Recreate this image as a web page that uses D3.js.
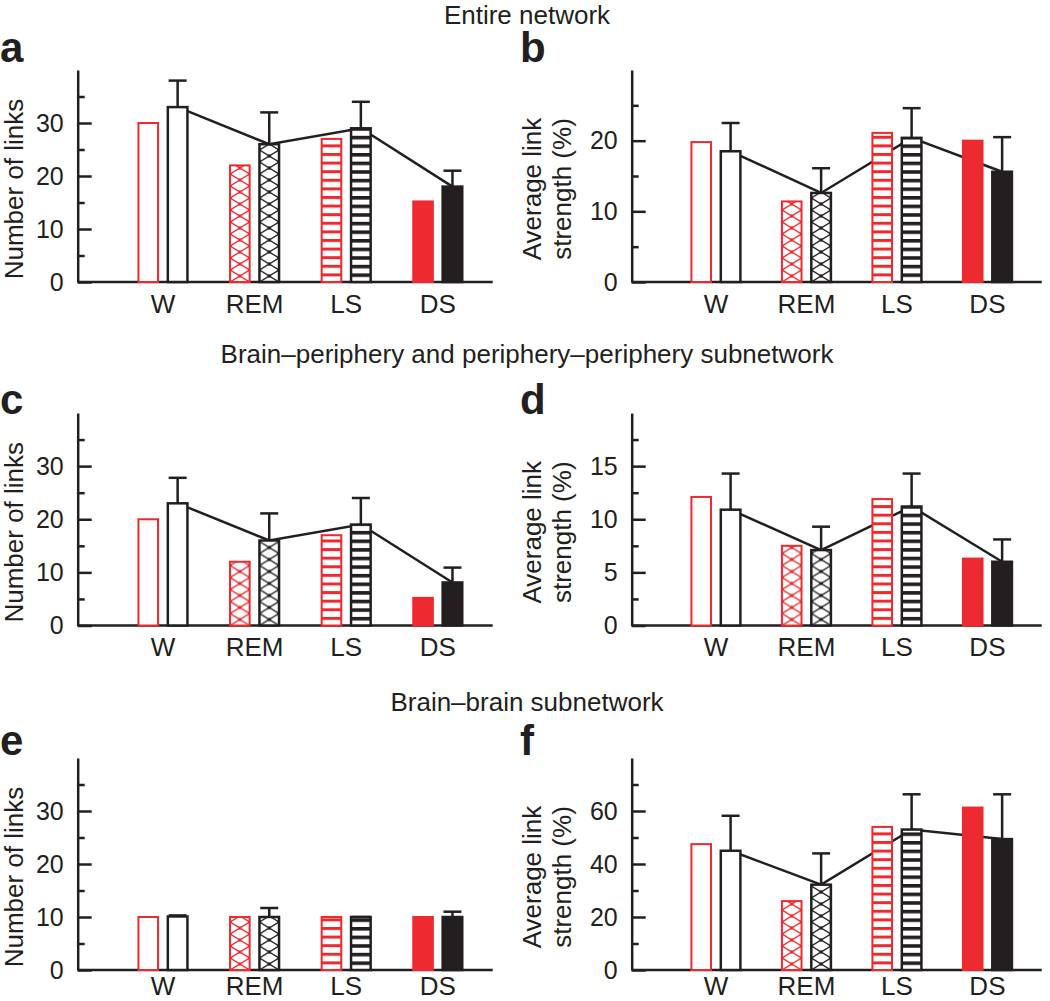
<!DOCTYPE html>
<html><head><meta charset="utf-8">
<script src="https://cdn.jsdelivr.net/npm/d3@7"></script>
<style>
body{margin:0;background:#fff}
svg{display:block}
text{font-family:"Liberation Sans",Arial,Helvetica,sans-serif}
</style>
</head><body>
<svg id="chart" width="1050" height="1001"></svg>
<script>
// ---------- data ----------
const categories = ["W", "REM", "LS", "DS"];
const series = ["red", "black"];

const aRed   = [30, 22, 27, 15.2];
const aBlack = [33, 26, 29, 18];
const aErr   = [38, 32, 34, 21];

const bRed   = [19.8, 11.4, 21.1, 20.0];
const bBlack = [18.5, 12.6, 20.4, 15.6];
const bErr   = [22.5, 16.1, 24.6, 20.5];

const cRed   = [20, 12, 17, 5.2];
const cBlack = [23, 16, 19, 8.1];
const cErr   = [27.8, 21.1, 24, 10.9];

const dRed   = [12.1, 7.5, 11.9, 6.3];
const dBlack = [10.9, 7.1, 11.2, 6.0];
const dErr   = [14.3, 9.3, 14.3, 8.1];

const eRed   = [10, 10, 10, 10];
const eBlack = [10.1, 10, 10, 10];
const eErr   = [10.3, 11.7, 10, 11];

const fRed   = [47.5, 26, 54, 61.3];
const fBlack = [45, 32.2, 53, 49.4];
const fErr   = [58.2, 44, 66.3, 66.3];

const linksMax = 40, linksMajor = [0, 10, 20, 30], linksMinor = [5, 15, 25, 35];
const bMax = 30, bMajor = [0, 10, 20], bMinor = [5, 15, 25];
const dMax = 20, dMajor = [0, 5, 10, 15], dMinor = [2.5, 7.5, 12.5, 17.5];
const fMax = 80, fMajor = [0, 20, 40, 60], fMinor = [10, 30, 50, 70];

const sectionTitles = ["Entire network",
  "Brain\u2013periphery and periphery\u2013periphery subnetwork",
  "Brain\u2013brain subnetwork"];
const linksLabel = ["Number of links"];
const strengthLabel = ["Average link", "strength (%)"];
const fillKinds = ["open", "cross", "stripe", "solid"];

// ---------- layout ----------
const RED = "#ec2a2f", BLK = "#231f20";
const FONT = '"Liberation Sans",Arial,Helvetica,sans-serif';
const colX = [77.7, 631.7], colLen = [415, 410], letterX = [0, 520];
const rowTop = [70, 413, 758], rowBase = [282, 625.5, 970];
const letterY = [62, 414, 755];
const xLabelPad = [12.5, 12.5, 6.5];
const titleY = [24, 363, 711];

const panels = [
  {id:"a", red:aRed, black:aBlack, err:aErr, max:linksMax, major:linksMajor, minor:linksMinor, label:linksLabel, col:0, row:0, showLine:true},
  {id:"b", red:bRed, black:bBlack, err:bErr, max:bMax, major:bMajor, minor:bMinor, label:strengthLabel, col:1, row:0, showLine:true},
  {id:"c", red:cRed, black:cBlack, err:cErr, max:linksMax, major:linksMajor, minor:linksMinor, label:linksLabel, col:0, row:1, showLine:true},
  {id:"d", red:dRed, black:dBlack, err:dErr, max:dMax, major:dMajor, minor:dMinor, label:strengthLabel, col:1, row:1, showLine:true},
  {id:"e", red:eRed, black:eBlack, err:eErr, max:linksMax, major:linksMajor, minor:linksMinor, label:linksLabel, col:0, row:2, showLine:false},
  {id:"f", red:fRed, black:fBlack, err:fErr, max:fMax, major:fMajor, minor:fMinor, label:strengthLabel, col:1, row:2, showLine:true},
];

const svg = d3.select("#chart");
const defs = svg.append("defs");

// titles
svg.selectAll("text.title").data(sectionTitles).join("text")
  .attr("class","title")
  .attr("x", 527).attr("y", (d,i)=>titleY[i])
  .attr("text-anchor","middle").attr("font-size",26).attr("fill",BLK)
  .text(d=>d);

panels.forEach(p => {
  const x0 = colX[p.col], L = colLen[p.col];
  const top = rowTop[p.row], base = rowBase[p.row];
  const g = svg.append("g");

  const y = d3.scaleLinear().domain([0, p.max]).range([base, top]);
  const x = d3.scaleBand().domain(categories).range([x0 + 0.095*L, x0 + 0.978*L]);
  const bw = x.bandwidth();
  const inner = d3.scaleBand().domain(series).range([bw/2 - 24.5, bw/2 + 24.5]).paddingInner(0.333);
  const w = inner.bandwidth();

  // panel letter
  g.append("text").attr("x", letterX[p.col]).attr("y", letterY[p.row])
    .attr("font-size", 42).attr("font-weight","bold").attr("fill",BLK).text(p.id);

  // y label
  const cy = (top + base)/2 + 13;
  if (p.label.length === 1) {
    g.append("text").attr("font-size",26).attr("fill",BLK).attr("text-anchor","middle")
      .attr("transform", `translate(${x0 - 54.7},${cy}) rotate(-90)`).text(p.label[0]);
  } else {
    p.label.forEach((t,i)=>{
      g.append("text").attr("font-size",26).attr("fill",BLK).attr("text-anchor","middle")
        .attr("transform", `translate(${x0 - 90.5 + i*29.5},${cy}) rotate(-90)`).text(t);
    });
  }

  // y axis
  const ya = g.append("g").attr("transform",`translate(${x0},0)`)
    .call(d3.axisLeft(y).tickValues(p.major).tickSizeInner(-14).tickSizeOuter(0).tickPadding(14));
  ya.selectAll("path,line").attr("stroke",BLK).attr("stroke-width",2.5);
  ya.selectAll("text").attr("font-size",25).attr("font-family",FONT).attr("fill",BLK);
  const ym = g.append("g").attr("transform",`translate(${x0},0)`)
    .call(d3.axisLeft(y).tickValues(p.minor).tickSizeInner(-7).tickSizeOuter(0).tickFormat(""));
  ym.select(".domain").remove();
  ym.selectAll("line").attr("stroke",BLK).attr("stroke-width",2.5);

  // x axis line + labels
  g.append("line").attr("x1", x0).attr("x2", x0 + L).attr("y1", base).attr("y2", base)
    .attr("stroke",BLK).attr("stroke-width",2.5);
  const xa = g.append("g").attr("transform",`translate(0,${base})`)
    .call(d3.axisBottom(x).tickSize(0).tickPadding(xLabelPad[p.row]));
  xa.select(".domain").remove();
  xa.selectAll("text").attr("font-size",26).attr("font-family",FONT).attr("fill",BLK);

  // connecting line through black bar tops
  if (p.showLine) {
    const line = d3.line()
      .x((d,i)=> x(categories[i]) + inner("black") + w/2)
      .y(d => y(d));
    g.append("path").datum(p.black).attr("d", line)
      .attr("fill","none").attr("stroke",BLK).attr("stroke-width",2.5);
  }

  // bars
  const bars = [];
  categories.forEach((c,i)=>{
    series.forEach(s=>{
      bars.push({cat:c, i, s, v: s==="red" ? p.red[i] : p.black[i], kind: fillKinds[i]});
    });
  });

  bars.forEach(b=>{
    const bx = x(b.cat) + inner(b.s);
    const col = b.s === "red" ? RED : BLK;
    const pid = `pat-${p.id}-${b.s}-${b.cat}`;
    let fill = "#fff";
    if (b.kind === "cross") {
      const tw = w, th = 12;
      const pat = defs.append("pattern").attr("id",pid).attr("patternUnits","userSpaceOnUse")
        .attr("x",bx).attr("y",base).attr("width",tw).attr("height",th);
      pat.append("rect").attr("width",tw).attr("height",th).attr("fill","#fff");
      pat.append("path").attr("d",`M0,0L${tw},${th}M${tw},0L0,${th}`)
        .attr("stroke",col).attr("stroke-width",1.4).attr("fill","none");
      [[tw/2,th/2],[0,0],[tw,0],[0,th],[tw,th]].forEach(([cx,cyy])=>{
        pat.append("circle").attr("cx",cx).attr("cy",cyy).attr("r",1.8).attr("fill",col);
      });
      fill = `url(#${pid})`;
    } else if (b.kind === "stripe") {
      const th = 8.6;
      const pat = defs.append("pattern").attr("id",pid).attr("patternUnits","userSpaceOnUse")
        .attr("x",bx).attr("y",base).attr("width",w).attr("height",th);
      pat.append("rect").attr("width",w).attr("height",th).attr("fill","#fff");
      pat.append("rect").attr("y",0).attr("width",w).attr("height", b.s==="red" ? 3 : 3.6).attr("fill",col);
      fill = `url(#${pid})`;
    } else if (b.kind === "solid") {
      fill = col;
    }
    g.append("rect")
      .attr("x", bx).attr("width", w)
      .attr("y", y(b.v)).attr("height", base - y(b.v))
      .attr("fill", fill)
      .attr("stroke", col).attr("stroke-width", b.s==="red" ? 2 : 2.5);
  });

  // error bars (black series, upward)
  categories.forEach((c,i)=>{
    const cx = x(c) + inner("black") + w/2;
    const y1 = y(p.black[i]), y2 = y(p.err[i]);
    g.append("line").attr("x1",cx).attr("x2",cx).attr("y1",y1).attr("y2",y2)
      .attr("stroke",BLK).attr("stroke-width",2.5);
    g.append("line").attr("x1",cx-9).attr("x2",cx+9).attr("y1",y2).attr("y2",y2)
      .attr("stroke",BLK).attr("stroke-width",2.5);
  });
});
</script>
</body></html>
